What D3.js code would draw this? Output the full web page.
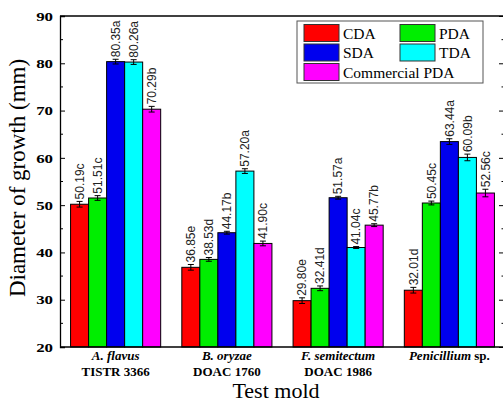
<!DOCTYPE html>
<html>
<head>
<meta charset="utf-8">
<script src="https://cdn.jsdelivr.net/npm/d3@7"></script>
<style>
  body { margin: 0; background: #fff; }
  svg { display: block; }
</style>
</head>
<body>
<div id="chart"></div>
<script>
/* ---------------- Data ---------------- */
var molds = ["A. flavus", "B. oryzae", "F. semitectum", "Penicillium"];
var moldSuffix = ["", "", "", " sp."];
var strains = ["TISTR 3366", "DOAC 1760", "DOAC 1986", ""];
var media = ["CDA", "PDA", "SDA", "TDA", "Commercial PDA"];
var colors = ["#ff0000", "#00ee00", "#0000ee", "#00ffff", "#ff00ff"];

var cda = [50.19, 36.85, 29.80, 32.01];
var pda = [51.51, 38.53, 32.41, 50.45];
var sda = [80.35, 44.17, 51.57, 63.44];
var tda = [80.26, 57.20, 41.04, 60.09];
var comPda = [70.29, 41.90, 45.77, 52.56];

var cdaErr = [0.6, 0.6, 0.6, 0.6];
var pdaErr = [0.5, 0.4, 0.5, 0.4];
var sdaErr = [0.5, 0.3, 0.3, 0.6];
var tdaErr = [0.5, 0.5, 0.2, 0.7];
var comPdaErr = [0.6, 0.5, 0.3, 0.8];

var cdaLetter = ["c", "e", "e", "d"];
var pdaLetter = ["c", "d", "d", "c"];
var sdaLetter = ["a", "b", "a", "a"];
var tdaLetter = ["a", "a", "c", "b"];
var comPdaLetter = ["b", "c", "b", "c"];

var yTicks = [20, 30, 40, 50, 60, 70, 80, 90];
var yMinor = [25, 35, 45, 55, 65, 75, 85];

var allValues = [cda, pda, sda, tda, comPda];
var allErr = [cdaErr, pdaErr, sdaErr, tdaErr, comPdaErr];
var allLetters = [cdaLetter, pdaLetter, sdaLetter, tdaLetter, comPdaLetter];

/* flat table for the bars */
var bars = [];
molds.forEach(function(m, i) {
    media.forEach(function(s, j) {
        bars.push({ mold: m, medium: s, value: allValues[j][i], err: allErr[j][i], letter: allLetters[j][i], color: colors[j] });
    });
});

/* ---------------- Layout ---------------- */
var W = 503, H = 403,
    pLeft = 60, pRight = 505, pTop = 16, pBottom = 347,
    serif = "'Liberation Serif', 'Times New Roman', serif",
    sans = "'Liberation Sans', Arial, sans-serif";

var svg = d3.select("#chart").append("svg")
    .attr("width", W)
    .attr("height", H);

var x = d3.scaleBand().domain(molds).range([pLeft, pRight]).paddingInner(0.19).paddingOuter(0.095);
var xs = d3.scaleBand().domain(media).range([0, x.bandwidth()]);
var y = d3.scaleLinear().domain([20, 90]).range([pBottom, pTop]);

/* ---------------- Bars ---------------- */
var g = svg.append("g");

g.selectAll("rect.bar")
    .data(bars)
    .enter().append("rect")
    .attr("class", "bar")
    .attr("x", function(d) { return x(d.mold) + xs(d.medium); })
    .attr("y", function(d) { return y(d.value); })
    .attr("width", xs.bandwidth())
    .attr("height", function(d) { return y(20) - y(d.value); })
    .attr("fill", function(d) { return d.color; })
    .attr("stroke", "#000")
    .attr("stroke-width", 1);

/* error bars */
var eb = g.selectAll("g.err")
    .data(bars)
    .enter().append("g")
    .attr("class", "err")
    .attr("transform", function(d) { return "translate(" + (x(d.mold) + xs(d.medium) + xs.bandwidth() / 2) + ",0)"; })
    .attr("stroke", "#000")
    .attr("stroke-width", 1);

eb.append("line")
    .attr("y1", function(d) { return y(d.value - d.err); })
    .attr("y2", function(d) { return y(d.value + d.err); });
eb.append("line")
    .attr("x1", -3).attr("x2", 3)
    .attr("y1", function(d) { return y(d.value + d.err); })
    .attr("y2", function(d) { return y(d.value + d.err); });
eb.append("line")
    .attr("x1", -3).attr("x2", 3)
    .attr("y1", function(d) { return y(d.value - d.err); })
    .attr("y2", function(d) { return y(d.value - d.err); });

/* value labels */
g.selectAll("text.val")
    .data(bars)
    .enter().append("text")
    .attr("class", "val")
    .attr("transform", function(d) {
        return "translate(" + (x(d.mold) + xs(d.medium) + xs.bandwidth() / 2) + "," + (y(d.value + d.err) - 2) + ")rotate(-90)";
    })
    .attr("dy", "0.35em")
    .attr("font-family", sans)
    .attr("font-size", 12)
    .attr("fill", "#222")
    .text(function(d) { return d.value.toFixed(2) + d.letter; });

/* ---------------- Axes ---------------- */
var yAxis = d3.axisLeft(y).tickValues(yTicks).tickSize(-5).tickPadding(7);
var ya = svg.append("g")
    .attr("transform", "translate(" + pLeft + ",0)")
    .call(yAxis);
ya.select(".domain").attr("stroke-width", 1.3);
ya.selectAll("text")
    .attr("font-family", serif)
    .attr("font-weight", "bold")
    .attr("font-size", 13)
    .attr("fill", "#000")
    .attr("x", -7 / 1.3)
    .attr("transform", "scale(1.3,1)");

ya.selectAll(".minor")
    .data(yMinor)
    .enter().append("line")
    .attr("class", "minor")
    .attr("x1", 0).attr("x2", 3)
    .attr("y1", y).attr("y2", y)
    .attr("stroke", "#000");

/* right axis, mostly off-canvas */
var ra = svg.append("g")
    .attr("transform", "translate(" + pRight + ",0)")
    .call(d3.axisRight(y).tickValues(yTicks).tickSize(-6).tickFormat(""));
ra.selectAll(".minor")
    .data(yMinor)
    .enter().append("line")
    .attr("class", "minor")
    .attr("x1", 0).attr("x2", -3.5)
    .attr("y1", y).attr("y2", y)
    .attr("stroke", "#000");

/* top and bottom frame */
svg.append("line")
    .attr("x1", pLeft).attr("x2", W)
    .attr("y1", pTop).attr("y2", pTop)
    .attr("stroke", "#000").attr("stroke-width", 1.5);
svg.append("line")
    .attr("x1", pLeft).attr("x2", W)
    .attr("y1", pBottom).attr("y2", pBottom)
    .attr("stroke", "#000").attr("stroke-width", 1.3);

/* category labels */
var xl = svg.append("g")
    .selectAll("g")
    .data(molds)
    .enter().append("g")
    .attr("transform", function(d) { return "translate(" + (x(d) + x.bandwidth() / 2) + ",0)"; });

var line1 = xl.append("text")
    .attr("y", 360)
    .attr("text-anchor", "middle")
    .attr("font-family", serif)
    .attr("font-weight", "bold")
    .attr("font-size", 13);
line1.append("tspan")
    .attr("font-style", "italic")
    .text(function(d) { return d; });
line1.append("tspan")
    .text(function(d, i) { return moldSuffix[i]; });

xl.append("text")
    .attr("y", 376)
    .attr("text-anchor", "middle")
    .attr("font-family", serif)
    .attr("font-weight", "bold")
    .attr("font-size", 13)
    .text(function(d, i) { return strains[i]; });

/* axis titles */
svg.append("text")
    .attr("x", 276)
    .attr("y", 398)
    .attr("text-anchor", "middle")
    .attr("font-family", serif)
    .attr("font-size", 22)
    .text("Test mold");

svg.append("text")
    .attr("transform", "translate(25,178)rotate(-90)")
    .attr("text-anchor", "middle")
    .attr("font-family", serif)
    .attr("font-size", 23)
    .text("Diameter of growth (mm)");

/* ---------------- Legend ---------------- */
var lg = svg.append("g").attr("transform", "translate(297,21)");
lg.append("rect")
    .attr("width", 186).attr("height", 62)
    .attr("fill", "#fff")
    .attr("stroke", "#555")
    .attr("stroke-width", 1);

var items = lg.selectAll("g.item")
    .data(media)
    .enter().append("g")
    .attr("class", "item")
    .attr("transform", function(d, i) { return "translate(" + (7 + (i % 2) * 96) + "," + (3.5 + Math.floor(i / 2) * 19.5) + ")"; });

items.append("rect")
    .attr("width", 35).attr("height", 17)
    .attr("fill", function(d, i) { return colors[i]; })
    .attr("stroke", "#333");

items.append("text")
    .attr("x", 39)
    .attr("y", 14)
    .attr("font-family", serif)
    .attr("font-size", 15.5)
    .text(function(d) { return d; });
</script>
</body>
</html>
